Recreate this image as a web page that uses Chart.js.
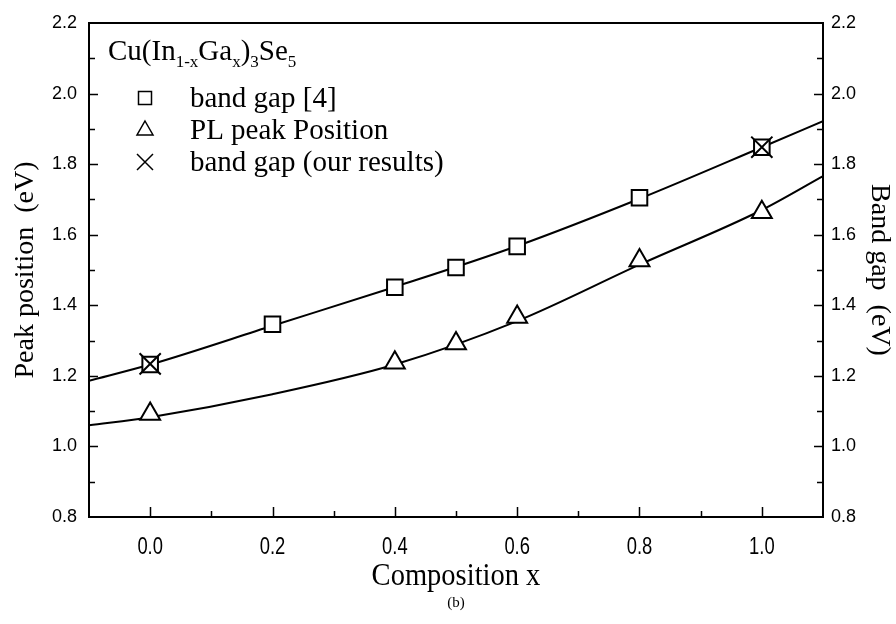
<!DOCTYPE html>
<html lang="en">
<head>
    <meta charset="UTF-8">
    <title>Peak position and band gap vs composition</title>
    <script src="https://cdn.jsdelivr.net/npm/chart.js"></script>
    <style>
        html, body { margin: 0; padding: 0; background: #fff; }
        #wrap { width: 896px; height: 624px; }
    </style>
</head>
<body>
    <div id="wrap">
        <canvas id="gapChart" width="896" height="624"></canvas>
    </div>

    <script>
        // values
        const xTicks = [0.0, 0.2, 0.4, 0.6, 0.8, 1.0];
        const yTicks = [0.8, 1.0, 1.2, 1.4, 1.6, 1.8, 2.0, 2.2];

        const refX = [0.0, 0.2, 0.4, 0.5, 0.6, 0.8, 1.0];
        const refGap = [1.232, 1.346, 1.451, 1.507, 1.567, 1.705, 1.848];

        const plX = [0.0, 0.4, 0.5, 0.6, 0.8, 1.0];
        const plPeak = [1.092, 1.237, 1.292, 1.367, 1.527, 1.664];

        const ourX = [0.0, 1.0];
        const ourGap = [1.234, 1.848];

        // fitted curves, sampled from the drawn lines
        const fitX = [-0.1, 0.0, 0.2, 0.4, 0.6, 0.8, 1.0, 1.1];
        const refFit = [1.186, 1.232, 1.342, 1.452, 1.568, 1.702, 1.848, 1.922];
        const plFit = [1.060, 1.083, 1.148, 1.232, 1.355, 1.515, 1.670, 1.766];

        const pts = (xs, ys) => xs.map((x, i) => ({ x: x, y: ys[i] }));

        const serif = "'Liberation Serif', 'Times New Roman', serif";
        const sans = "'Liberation Sans', Arial, sans-serif";

        // squeezed text, the figure uses condensed faces on the x axis
        function narrowText(ctx, text, x, y, squeeze) {
            ctx.save();
            ctx.translate(x, y);
            ctx.scale(squeeze, 1);
            ctx.fillText(text, 0, 0);
            ctx.restore();
        }

        // frame, inward ticks, x labels, legend and caption
        const decorations = {
            id: 'decorations',
            afterDraw(chart) {
                const ctx = chart.ctx;
                const a = chart.chartArea;
                const xs = chart.scales.x, ys = chart.scales.y;
                ctx.save();
                ctx.strokeStyle = '#000';
                ctx.fillStyle = '#000';
                ctx.lineWidth = 2;
                ctx.strokeRect(a.left, a.top, a.right - a.left, a.bottom - a.top);

                ctx.lineWidth = 1.5;
                ctx.beginPath();
                for (let v = 0; v <= 10; v++) {
                    const px = Math.round(xs.getPixelForValue(v / 10)) + 0.5;
                    const len = v % 2 === 0 ? 10 : 6;
                    ctx.moveTo(px, a.bottom);
                    ctx.lineTo(px, a.bottom - len);
                }
                for (let v = 9; v <= 21; v++) {
                    const py = Math.round(ys.getPixelForValue(v / 10)) + 0.5;
                    const len = v % 2 === 0 ? 9 : 6;
                    ctx.moveTo(a.left, py);
                    ctx.lineTo(a.left + len, py);
                    ctx.moveTo(a.right, py);
                    ctx.lineTo(a.right - len, py);
                }
                ctx.stroke();

                // x tick labels and axis title
                ctx.textAlign = 'center';
                ctx.textBaseline = 'middle';
                ctx.font = '23px ' + sans;
                xs.ticks.forEach(t => {
                    narrowText(ctx, t.value.toFixed(1), xs.getPixelForValue(t.value), 548, 0.8);
                });
                ctx.font = '31px ' + serif;
                narrowText(ctx, 'Composition x', (a.left + a.right) / 2, 577, 0.92);

                // legend title with subscripts
                ctx.textAlign = 'left';
                ctx.textBaseline = 'alphabetic';
                const big = '29px ' + serif, small = '17px ' + serif;
                const parts = [['Cu(In', 0], ['1-x', 1], ['Ga', 0], ['x', 1], [')', 0], ['3', 1], ['Se', 0], ['5', 1]];
                let tx = 108;
                parts.forEach(p => {
                    ctx.font = p[1] ? small : big;
                    ctx.fillText(p[0], tx, 60 + (p[1] ? 7 : 0));
                    tx += ctx.measureText(p[0]).width;
                });

                // legend rows
                const rows = [['band gap [4]', 'rect', 107], ['PL peak Position', 'triangle', 139], ['band gap (our results)', 'cross', 171]];
                ctx.font = big;
                rows.forEach(r => {
                    const mx = 145, my = r[2] - 9;
                    ctx.lineWidth = 1.5;
                    ctx.beginPath();
                    if (r[1] === 'rect') {
                        ctx.rect(mx - 6.5, my - 6.5, 13, 13);
                    } else if (r[1] === 'triangle') {
                        ctx.moveTo(mx, my - 9);
                        ctx.lineTo(mx + 8, my + 5);
                        ctx.lineTo(mx - 8, my + 5);
                        ctx.closePath();
                    } else {
                        ctx.moveTo(mx - 8, my - 8); ctx.lineTo(mx + 8, my + 8);
                        ctx.moveTo(mx + 8, my - 8); ctx.lineTo(mx - 8, my + 8);
                    }
                    ctx.stroke();
                    ctx.fillText(r[0], 190, r[2]);
                });

                // panel caption
                ctx.font = '15px ' + serif;
                ctx.textAlign = 'center';
                ctx.textBaseline = 'middle';
                ctx.fillText('(b)', (a.left + a.right) / 2, 603);
                ctx.restore();
            }
        };

        const tickFont = { family: sans, size: 18 };

        new Chart(document.getElementById('gapChart'), {
            type: 'scatter',
            data: {
                datasets: [
                    {
                        label: 'band gap (our results)',
                        data: pts(ourX, ourGap),
                        pointStyle: 'crossRot',
                        pointRadius: 15,
                        borderColor: '#000',
                        borderWidth: 2,
                        showLine: false
                    },
                    {
                        label: 'band gap [4]',
                        data: pts(refX, refGap),
                        pointStyle: 'rect',
                        pointRadius: 11,
                        backgroundColor: '#fff',
                        borderColor: '#000',
                        borderWidth: 2,
                        showLine: false
                    },
                    {
                        label: 'PL peak Position',
                        data: pts(plX, plPeak),
                        pointStyle: 'triangle',
                        pointRadius: 11.5,
                        backgroundColor: '#fff',
                        borderColor: '#000',
                        borderWidth: 2,
                        showLine: false
                    },
                    {
                        label: 'band gap fit',
                        data: pts(fitX, refFit),
                        showLine: true,
                        pointRadius: 0,
                        borderColor: '#000',
                        borderWidth: 2,
                        cubicInterpolationMode: 'monotone'
                    },
                    {
                        label: 'PL fit',
                        data: pts(fitX, plFit),
                        showLine: true,
                        pointRadius: 0,
                        borderColor: '#000',
                        borderWidth: 2,
                        cubicInterpolationMode: 'monotone'
                    }
                ]
            },
            options: {
                responsive: false,
                animation: false,
                layout: { padding: { top: 23, left: 0, right: 0, bottom: 0 } },
                plugins: {
                    legend: { display: false },
                    tooltip: { enabled: false }
                },
                scales: {
                    x: {
                        type: 'linear',
                        min: -0.1,
                        max: 1.1,
                        afterBuildTicks: s => { s.ticks = xTicks.map(v => ({ value: v })); },
                        afterFit: s => { s.height = 107; },
                        grid: { display: false, drawTicks: false },
                        border: { display: false },
                        ticks: { display: false },
                        title: { display: false }
                    },
                    y: {
                        position: 'left',
                        min: 0.8,
                        max: 2.2,
                        afterBuildTicks: s => { s.ticks = yTicks.map(v => ({ value: v })); },
                        afterFit: s => { s.width = 89; },
                        grid: { display: false, drawTicks: false },
                        border: { display: false },
                        ticks: { color: '#000', padding: 12, font: tickFont, callback: v => v.toFixed(1) },
                        title: {
                            display: true,
                            text: 'Peak position  (eV)',
                            color: '#000',
                            font: { family: serif, size: 28, lineHeight: 1.1 },
                            padding: { top: 10, bottom: 0 }
                        }
                    },
                    y2: {
                        position: 'right',
                        min: 0.8,
                        max: 2.2,
                        afterBuildTicks: s => { s.ticks = yTicks.map(v => ({ value: v })); },
                        afterFit: s => { s.width = 73; },
                        grid: { display: false, drawTicks: false },
                        border: { display: false },
                        ticks: { color: '#000', padding: 8, font: tickFont, callback: v => v.toFixed(1) },
                        title: {
                            display: true,
                            text: 'Band gap  (eV)',
                            color: '#000',
                            font: { family: serif, size: 28, lineHeight: 1.1 },
                            padding: { top: 1, bottom: 0 }
                        }
                    }
                }
            },
            plugins: [decorations]
        });
    </script>
</body>
</html>
